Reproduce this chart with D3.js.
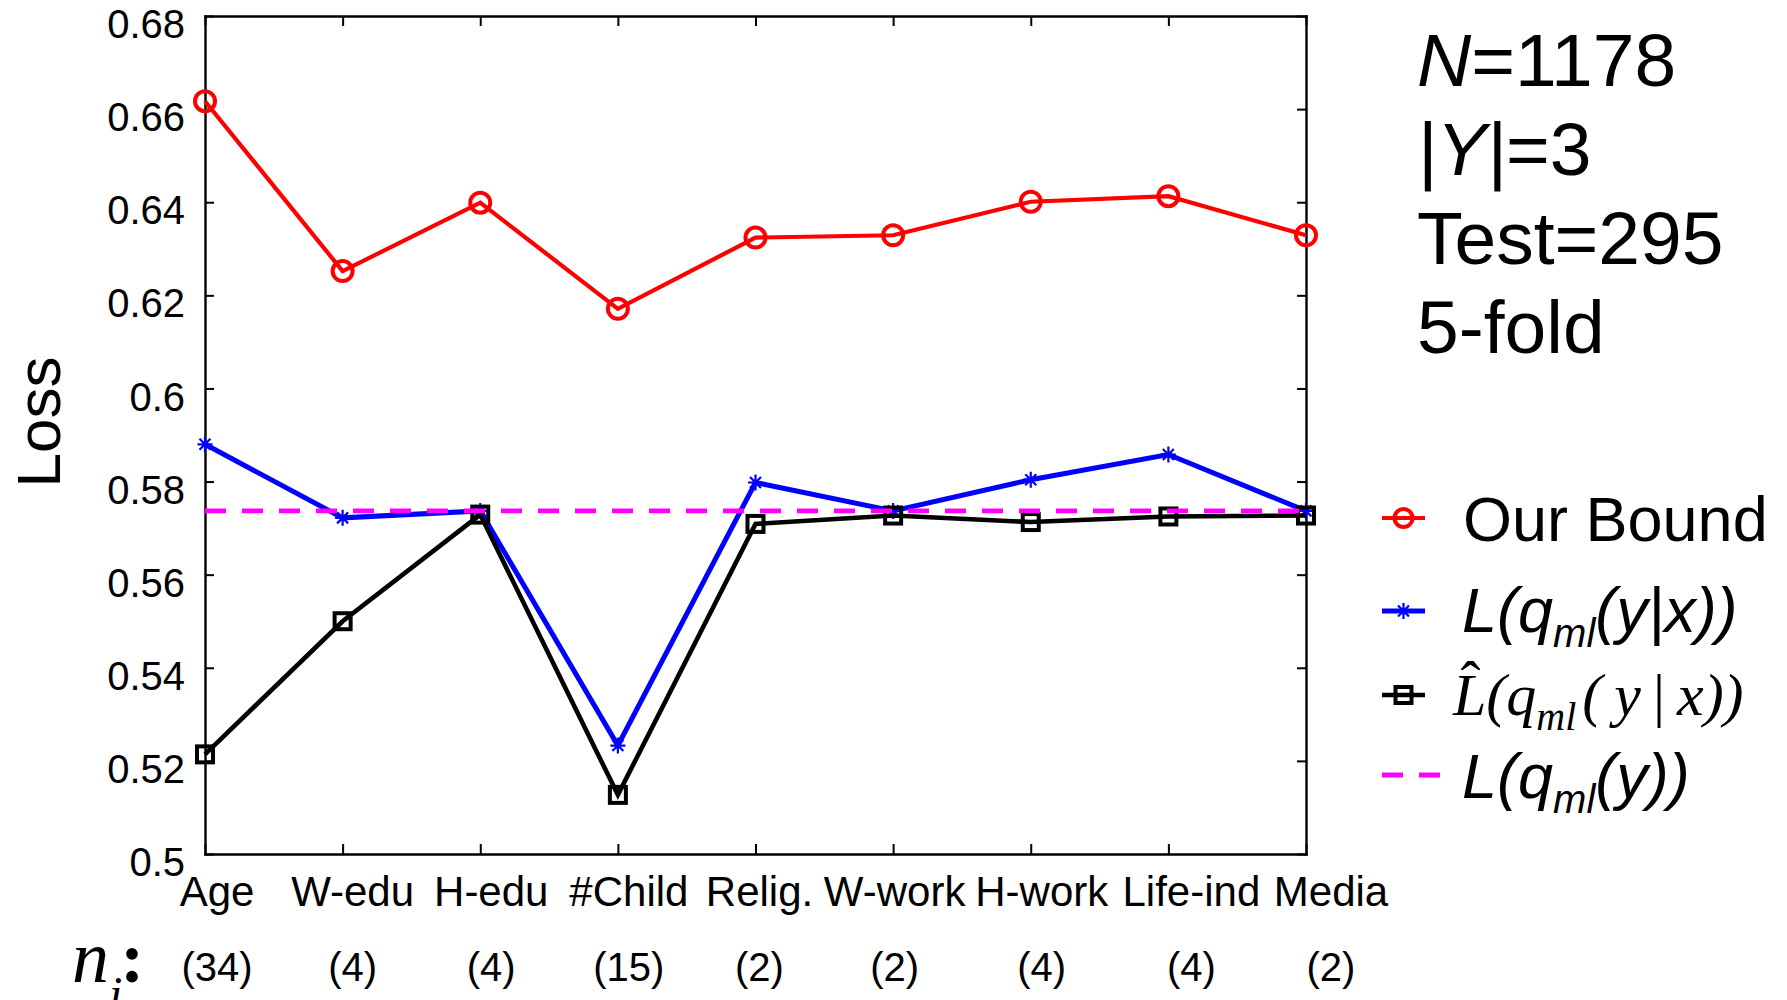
<!DOCTYPE html>
<html>
<head>
<meta charset="utf-8">
<script src="https://cdn.jsdelivr.net/npm/d3@7"></script>
<style>
  body { margin: 0; background: #fff; }
  text { font-family: Arial, 'Liberation Sans', sans-serif; }
  .serif { font-family: 'Times New Roman', 'Liberation Serif', serif; }
</style>
</head>
<body>
<svg id="chart" width="1787" height="1000"></svg>
<script>
// attributes on the x axis, and their number of levels n_i
var categories = ['Age', 'W-edu', 'H-edu', '#Child', 'Relig.', 'W-work', 'H-work', 'Life-ind', 'Media']
var levelCounts = ['(34)', '(4)', '(4)', '(15)', '(2)', '(2)', '(4)', '(4)', '(2)']

// loss values
var ourBound    = [0.6617, 0.6252, 0.6399, 0.6171, 0.6324, 0.6329, 0.6401, 0.6413, 0.6329]
var lossCond    = [0.5880, 0.5722, 0.5737, 0.5233, 0.5798, 0.5737, 0.5804, 0.5858, 0.5737]
var lossCondHat = [0.5214, 0.5500, 0.5729, 0.5127, 0.5709, 0.5727, 0.5713, 0.5725, 0.5727]
var lossMarginal = 0.5737

var yTicks = [0.5, 0.52, 0.54, 0.56, 0.58, 0.6, 0.62, 0.64, 0.66, 0.68]

var svg = d3.select('#chart')
var m = {left: 205, right: 1306, top: 16, bottom: 854}

var x = d3.scalePoint().domain(categories).range([m.left, m.right])
var y = d3.scaleLinear().domain([0.5, 0.68]).range([m.bottom, m.top])

// axes: ticks point inward on all four sides
function styleAxis(g){
  g.attr('font-family', null).attr('font-size', null)
  g.select('.domain').attr('stroke-width', 2.4).attr('stroke-linecap', 'square')
  g.selectAll('.tick line').attr('stroke-width', 2)
}

svg.append('g')
  .attr('transform', `translate(${m.left},0)`)
  .call(d3.axisLeft(y).tickValues(yTicks).tickSize(-9).tickSizeOuter(0).tickPadding(20)
    .tickFormat(d => String(+d.toFixed(2))))
  .call(styleAxis)
  .selectAll('text').attr('font-size', 40).attr('dy', '0.54em').attr('fill', '#000')

svg.append('g')
  .attr('transform', `translate(${m.right},0)`)
  .call(d3.axisRight(y).tickValues(yTicks).tickSize(-9).tickSizeOuter(0).tickFormat(''))
  .call(styleAxis)

svg.append('g')
  .attr('transform', `translate(0,${m.top})`)
  .call(d3.axisTop(x).tickSize(-10).tickSizeOuter(0).tickFormat(''))
  .call(styleAxis)

svg.append('g')
  .attr('transform', `translate(0,${m.bottom})`)
  .call(d3.axisBottom(x).tickSize(-10).tickSizeOuter(0).tickFormat(''))
  .call(styleAxis)

// category labels and level counts; in the original they sit a bit right of
// their ticks and are spaced by hand, so each gets a small nudge
var labelNudge = [12, 10, 11, 11, 4, 1.5, 11, 23, 25]
svg.append('g').selectAll('text').data(categories).join('text')
  .attr('x', (d, i) => x(d) + labelNudge[i])
  .attr('y', 906)
  .attr('text-anchor', 'middle')
  .attr('font-size', 42)
  .text(d => d)

svg.append('g').selectAll('text').data(levelCounts).join('text')
  .attr('x', (d, i) => x(categories[i]) + labelNudge[i])
  .attr('y', 981)
  .attr('text-anchor', 'middle')
  .attr('font-size', 40)
  .text(d => d)

var ni = svg.append('text').attr('class', 'serif').attr('x', 72).attr('y', 982).attr('font-size', 74)
ni.append('tspan').attr('font-style', 'italic').text('n')
ni.append('tspan').attr('font-style', 'italic').attr('font-size', 48).attr('dy', 28).text('i')
ni.append('tspan').attr('font-size', 72).attr('font-weight', 'bold').attr('dx', -2).attr('dy', -28).text(':')

// y label
svg.append('text')
  .attr('transform', 'translate(60,422) rotate(-90)')
  .attr('text-anchor', 'middle')
  .attr('font-size', 62)
  .text('Loss')

// series
var line = d3.line().x((d, i) => x(categories[i])).y(d => y(d))

var markers = {
  circle: g => g.append('circle').attr('r', 10).attr('fill', 'none'),
  star: g => g.append('path').attr('d', 'M-7.5,0H7.5M0,-8V8M-5.5,-5.5L5.5,5.5M-5.5,5.5L5.5,-5.5').attr('stroke-width', 2.2),
  square: g => g.append('rect').attr('x', -8).attr('y', -8).attr('width', 16).attr('height', 16).attr('fill', 'none'),
  none: g => g
}

var series = [
  {name: 'Our Bound', values: ourBound, color: '#ff0000', width: 4.2, marker: 'circle'},
  {name: 'L(q(y|x))', values: lossCond, color: '#0000ff', width: 5, marker: 'star'},
  {name: 'Lhat(q(y|x))', values: lossCondHat, color: '#000000', width: 4.6, marker: 'square'},
  {name: 'L(q(y))', values: categories.map(() => lossMarginal), color: '#ff00ff', width: 4.8, marker: 'none', dash: '21,16'}
]

series.forEach(s => {
  svg.append('path')
    .attr('d', line(s.values))
    .attr('fill', 'none')
    .attr('stroke', s.color)
    .attr('stroke-width', s.width)
    .attr('stroke-dasharray', s.dash || null)

  svg.append('g').selectAll('g').data(s.values).join('g')
    .attr('transform', (d, i) => `translate(${x(categories[i])},${y(d)})`)
    .attr('stroke', s.color)
    .attr('stroke-width', 4)
    .each(function(){ markers[s.marker](d3.select(this)) })
})

// legend
var legend = svg.append('g').attr('transform', 'translate(1382,518)')
var legendRows = [0, 93, 177, 257]

series.forEach((s, i) => {
  var row = legend.append('g').attr('transform', `translate(0,${legendRows[i]})`)
  row.append('line')
    .attr('x1', 0).attr('x2', s.dash ? 58 : 43)
    .attr('stroke', s.color).attr('stroke-width', s.width)
    .attr('stroke-dasharray', s.dash || null)
  var mk = row.append('g').attr('transform', 'translate(21.5,0)')
    .attr('stroke', s.color).attr('stroke-width', 4)
  markers[s.marker](mk)
  if (s.marker == 'circle') mk.select('circle').attr('r', 9)
})

legend.append('text').attr('x', 81).attr('y', legendRows[0] + 23).attr('font-size', 63).text('Our Bound')

var t1 = legend.append('text').attr('x', 80).attr('y', legendRows[1] + 21).attr('font-size', 63).attr('font-style', 'italic')
t1.append('tspan').text('L(q')
t1.append('tspan').attr('font-size', 40).attr('dy', 15).text('ml')
t1.append('tspan').attr('dy', -15).text('(y|x))')

var t2 = legend.append('text').attr('class', 'serif').attr('x', 71).attr('y', legendRows[2] + 20)
  .attr('font-size', 60).attr('font-style', 'italic')
t2.append('tspan').text('L')
t2.append('tspan').attr('font-style', 'normal').attr('dx', -26).attr('dy', -13).text('ˆ')
t2.append('tspan').attr('dx', 6).attr('dy', 13).text('(q')
t2.append('tspan').attr('font-size', 40).attr('dy', 15).text('ml')
t2.append('tspan').attr('dy', -15).attr('dx', 6).text('(\u2009y\u2009')
t2.append('tspan').attr('font-style', 'normal').text('|')
t2.append('tspan').text('\u2009x))')

var t3 = legend.append('text').attr('x', 80).attr('y', legendRows[3] + 23).attr('font-size', 63).attr('font-style', 'italic')
t3.append('tspan').text('L(q')
t3.append('tspan').attr('font-size', 40).attr('dy', 15).text('ml')
t3.append('tspan').attr('dy', -15).text('(y))')

// data set summary, top right
var info = [
  [['N', true], ['=1178', false]],
  [['|Y|', true], ['=3', false]],
  [['Test=295', false]],
  [['5-fold', false]]
]
svg.append('g').selectAll('text').data(info).join('text')
  .attr('x', 1417)
  .attr('y', (d, i) => 86 + i*89)
  .attr('font-size', 75)
  .each(function(parts){
    d3.select(this).selectAll('tspan').data(parts).join('tspan')
      .attr('font-style', p => p[1] ? 'italic' : null)
      .text(p => p[0])
  })
</script>
</body>
</html>
